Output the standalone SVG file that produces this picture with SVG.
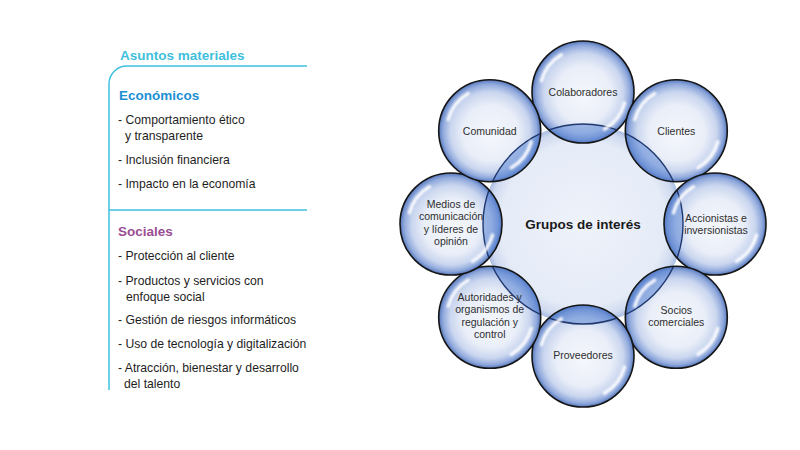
<svg xmlns="http://www.w3.org/2000/svg" width="800" height="450" viewBox="0 0 800 450">
<defs>
<style>
.hd{font-family:"Liberation Sans",Arial,sans-serif;font-weight:bold;font-size:13.5px}
.it{font-family:"Liberation Sans",Arial,sans-serif;font-size:12.2px;fill:#1e1e1e}
.ln{fill:none;stroke:#3fc1dc;stroke-width:1.5}
.lb{font-family:"Liberation Sans",Arial,sans-serif;font-size:10.5px;fill:#2e2e2e;text-anchor:middle}
.bub{fill:url(#bg)}
.bst{fill:none;stroke:#151515;stroke-width:1.6}
.lens{fill:#4f7dd2;fill-opacity:0.48;stroke:#1f386e;stroke-width:1.4}
.gl{fill:none;stroke:#ffffff;stroke-width:3.4;stroke-linecap:round;opacity:0.95;filter:url(#blur)}
</style>
<radialGradient id="bg" cx="50%" cy="50%" r="50%" fx="52%" fy="55%">
<stop offset="0" stop-color="#f5f7fc"/>
<stop offset="0.55" stop-color="#e9eef8"/>
<stop offset="0.78" stop-color="#cad6ef"/>
<stop offset="0.92" stop-color="#90a9dc"/>
<stop offset="1" stop-color="#5678bd"/>
</radialGradient>
<radialGradient id="cg" cx="50%" cy="50%" r="50%">
<stop offset="0" stop-color="#eef2fa"/>
<stop offset="0.82" stop-color="#e5ebf7"/>
<stop offset="0.94" stop-color="#d0dbf0"/>
<stop offset="1" stop-color="#aabde2"/>
</radialGradient>
<clipPath id="bc"><circle cx="0" cy="0" r="50.5"/></clipPath>
<filter id="blur" x="-50%" y="-50%" width="200%" height="200%"><feGaussianBlur stdDeviation="0.9"/></filter>
<path id="gls" d="M-41.5,-11.1 A43,43 0 0 1 -21.5,-37.2 M41.5,11.1 A43,43 0 0 1 21.5,37.2"/>
</defs>
<rect width="800" height="450" fill="#ffffff"/>

<g id="panel">
<path class="ln" d="M307,66 H127 A18,18 0 0 0 109,84 V390"/>
<path class="ln" d="M109,210 H307"/>
<text class="hd" x="120" y="60" fill="#3fbfdc">Asuntos materiales</text>
<text class="hd" x="119" y="100" fill="#1b8fd2">Económicos</text>
<text class="it" x="118" y="124">- Comportamiento ético</text>
<text class="it" x="125" y="140">y transparente</text>
<text class="it" x="118" y="164">- Inclusión financiera</text>
<text class="it" x="118" y="188">- Impacto en la economía</text>
<text class="hd" x="118" y="236" fill="#9a4e93">Sociales</text>
<text class="it" x="118" y="260">- Protección al cliente</text>
<text class="it" x="118" y="285">- Productos y servicios con</text>
<text class="it" x="126" y="301">enfoque social</text>
<text class="it" x="118" y="324">- Gestión de riesgos informáticos</text>
<text class="it" x="118" y="348">- Uso de tecnología y digitalización</text>
<text class="it" x="118" y="372">- Atracción, bienestar y desarrollo</text>
<text class="it" x="124" y="388">del talento</text>
</g>

<g id="centro">
<circle cx="583" cy="224" r="100" fill="url(#cg)"/>
<text x="583" y="229" text-anchor="middle" style="font-family:'Liberation Sans',Arial,sans-serif;font-weight:bold;font-size:13.5px;fill:#1a1a1a">Grupos de interés</text>
</g>

<g id="connectors"></g>

<g id="colaboradores" transform="translate(583,92)">
<circle class="bub" r="51"/>
<circle class="lens" cx="0" cy="132" r="100" clip-path="url(#bc)"/>
<use href="#gls" class="gl"/>
<circle class="bst" r="51"/>
<text class="lb" y="4">Colaboradores</text>
</g>
<g id="clientes" transform="translate(676.3,130.7)">
<circle class="bub" r="51"/>
<circle class="lens" cx="-93.3" cy="93.3" r="100" clip-path="url(#bc)"/>
<use href="#gls" class="gl"/>
<circle class="bst" r="51"/>
<text class="lb" y="4">Clientes</text>
</g>
<g id="accionistas" transform="translate(715,224)">
<circle class="bub" r="51"/>
<circle class="lens" cx="-132" cy="0" r="100" clip-path="url(#bc)"/>
<use href="#gls" class="gl"/>
<circle class="bst" r="51"/>
<text class="lb" x="1" y="-2">Accionistas e</text>
<text class="lb" x="1" y="10">inversionistas</text>
</g>
<g id="socios" transform="translate(676.3,317.3)">
<circle class="bub" r="51"/>
<circle class="lens" cx="-93.3" cy="-93.3" r="100" clip-path="url(#bc)"/>
<use href="#gls" class="gl"/>
<circle class="bst" r="51"/>
<text class="lb" y="-3">Socios</text>
<text class="lb" y="9">comerciales</text>
</g>
<g id="proveedores" transform="translate(583,356)">
<circle class="bub" r="51"/>
<circle class="lens" cx="0" cy="-132" r="100" clip-path="url(#bc)"/>
<use href="#gls" class="gl"/>
<circle class="bst" r="51"/>
<text class="lb" y="3">Proveedores</text>
</g>
<g id="autoridades" transform="translate(489.7,317.3)">
<circle class="bub" r="51"/>
<circle class="lens" cx="93.3" cy="-93.3" r="100" clip-path="url(#bc)"/>
<use href="#gls" class="gl"/>
<circle class="bst" r="51"/>
<text class="lb" y="-16">Autoridades y</text>
<text class="lb" y="-4">organismos de</text>
<text class="lb" y="9">regulación y</text>
<text class="lb" y="21">control</text>
</g>
<g id="medios" transform="translate(451,224)">
<circle class="bub" r="51"/>
<circle class="lens" cx="132" cy="0" r="100" clip-path="url(#bc)"/>
<use href="#gls" class="gl"/>
<circle class="bst" r="51"/>
<text class="lb" y="-16">Medios de</text>
<text class="lb" y="-4">comunicación</text>
<text class="lb" y="9">y líderes de</text>
<text class="lb" y="21">opinión</text>
</g>
<g id="comunidad" transform="translate(489.7,130.7)">
<circle class="bub" r="51"/>
<circle class="lens" cx="93.3" cy="93.3" r="100" clip-path="url(#bc)"/>
<use href="#gls" class="gl"/>
<circle class="bst" r="51"/>
<text class="lb" y="4">Comunidad</text>
</g>
</svg>
